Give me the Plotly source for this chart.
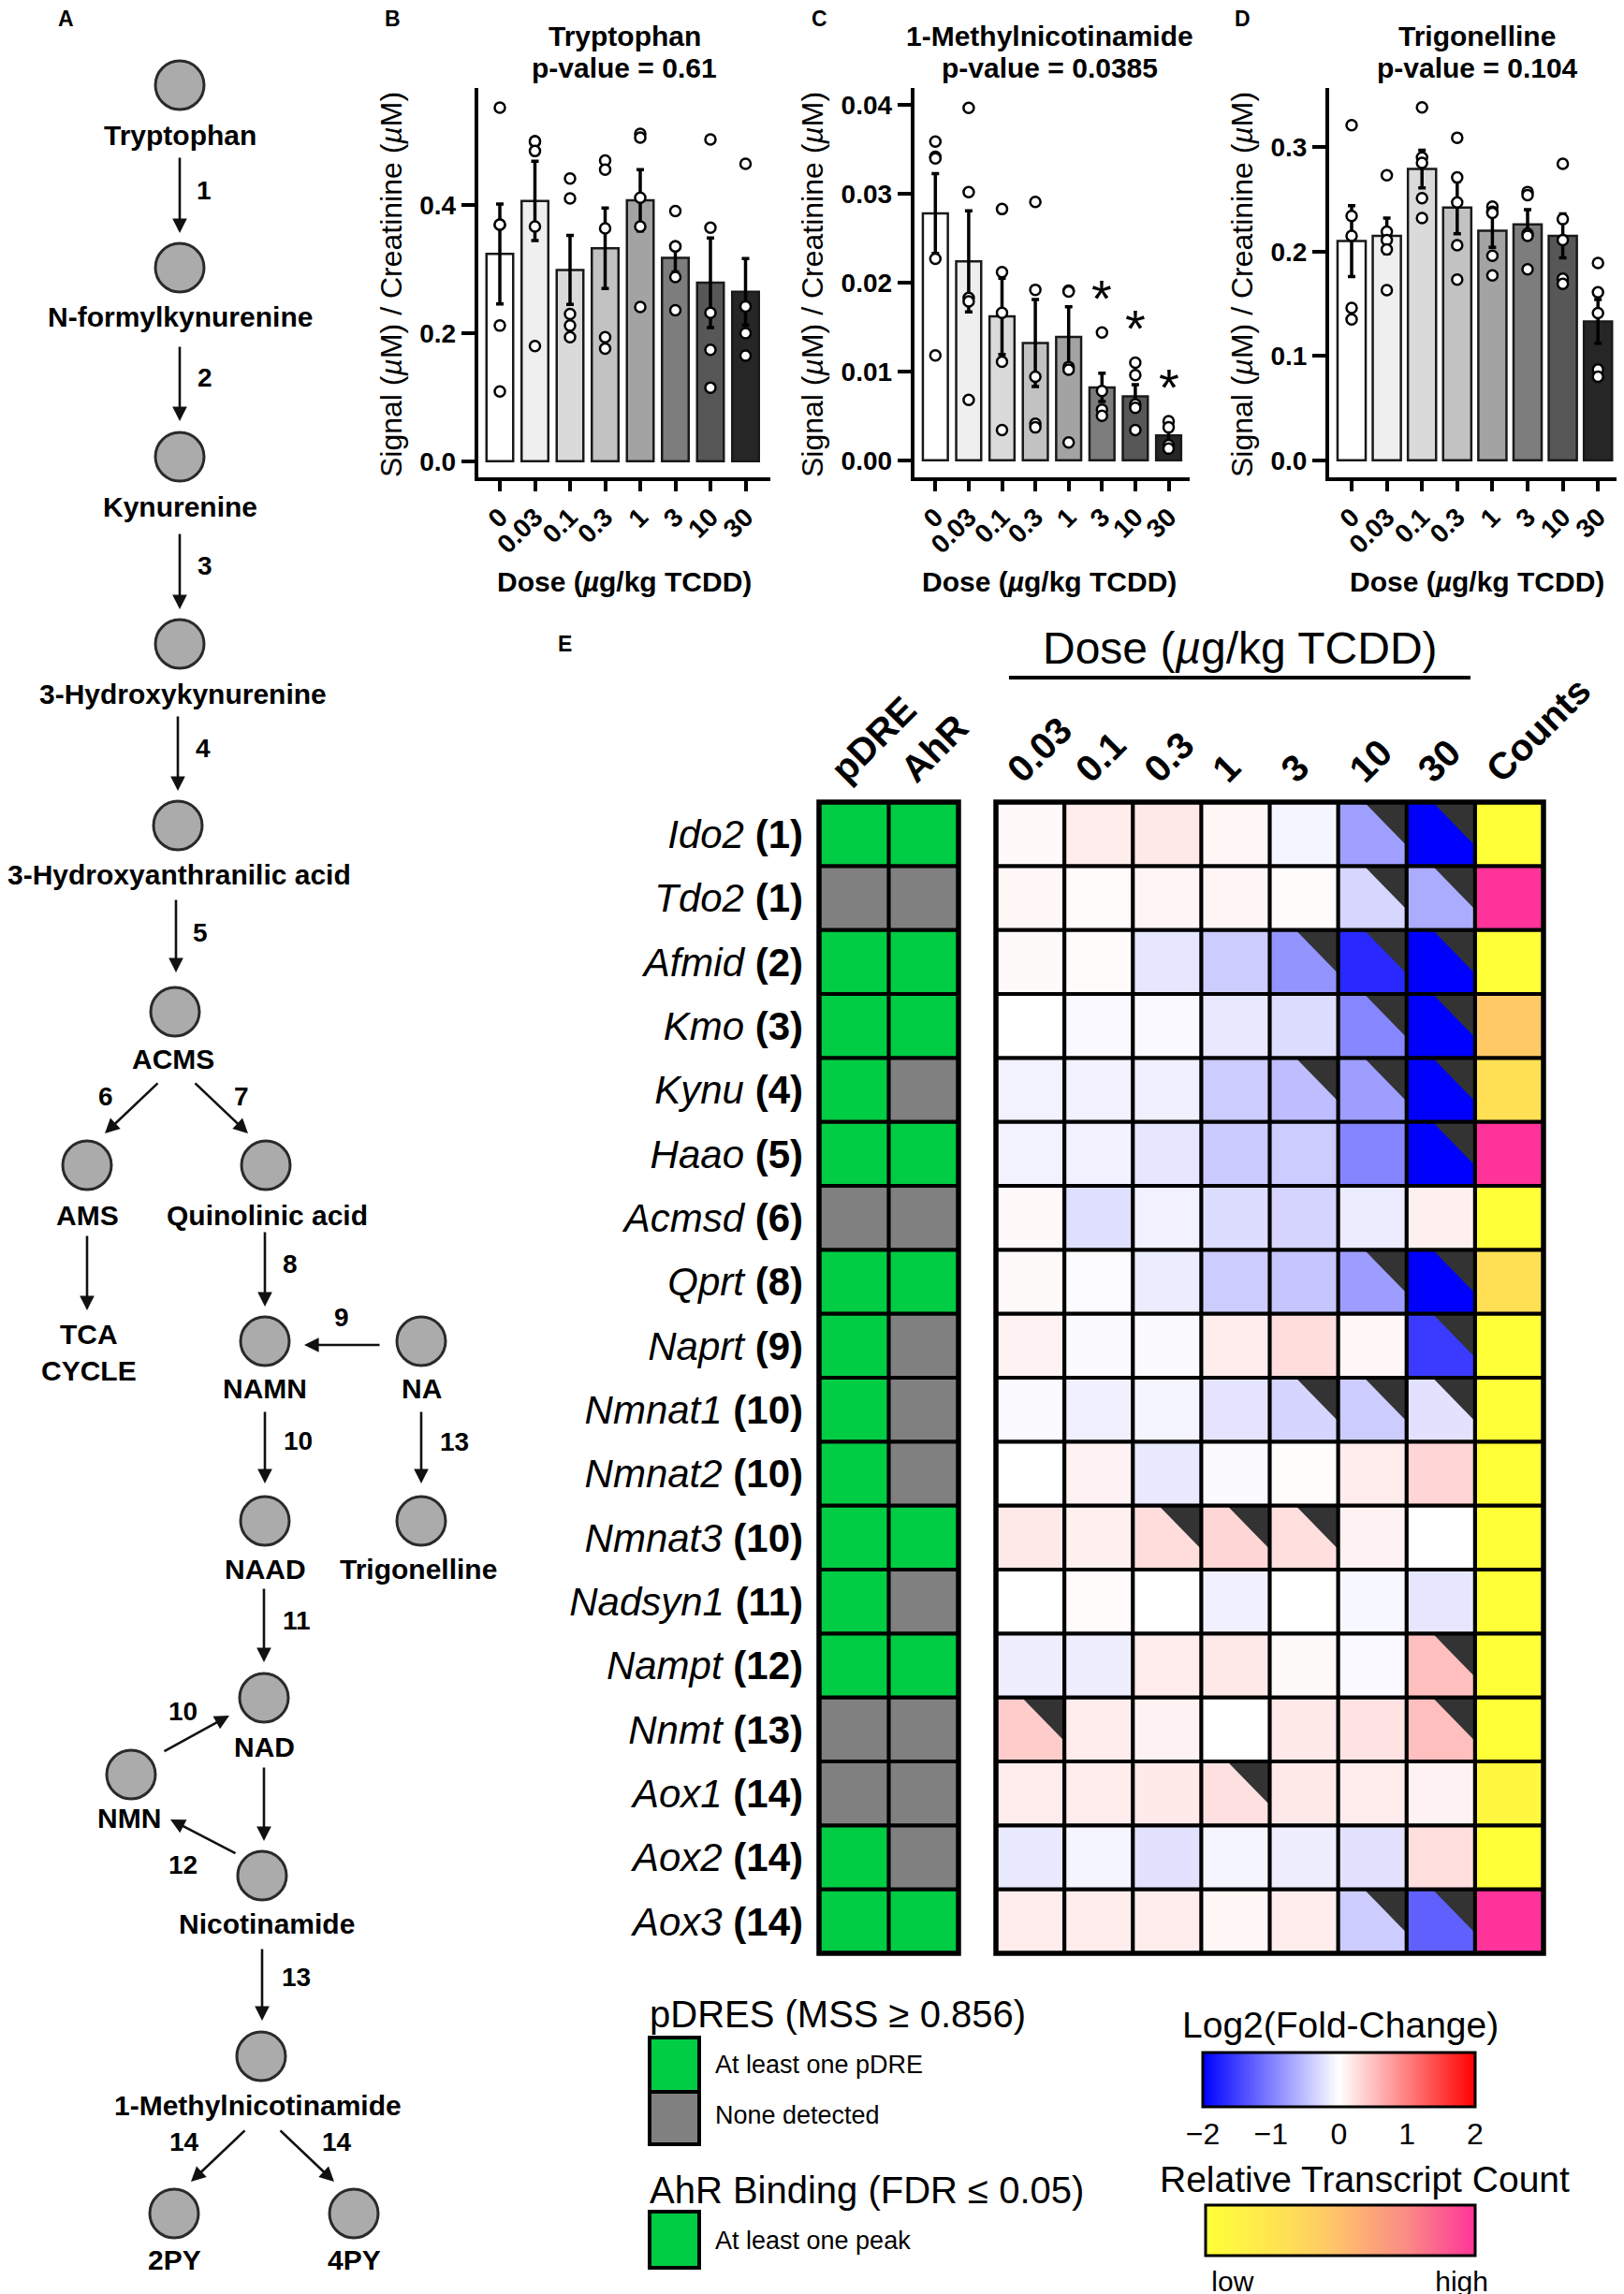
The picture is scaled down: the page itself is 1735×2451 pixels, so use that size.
import plotly.graph_objects as go

# ============================ DATA ============================
doses = ["0", "0.03", "0.1", "0.3", "1", "3", "10", "30"]

panel_titles = ["Tryptophan", "1-Methylnicotinamide", "Trigonelline"]
panel_pvalues = ["p-value = 0.61", "p-value = 0.0385", "p-value = 0.104"]

trp_mean = [0.324, 0.407, 0.299, 0.333, 0.408, 0.318, 0.279, 0.265]
trp_sem = [0.078, 0.062, 0.054, 0.063, 0.048, 0.022, 0.070, 0.052]
trp_points = [
    [0.553, 0.370, 0.370, 0.212, 0.109],
    [0.500, 0.500, 0.485, 0.367, 0.180],
    [0.442, 0.411, 0.230, 0.212, 0.194],
    [0.470, 0.456, 0.364, 0.194, 0.176],
    [0.512, 0.506, 0.412, 0.367, 0.241],
    [0.391, 0.336, 0.336, 0.288, 0.236],
    [0.503, 0.365, 0.232, 0.174, 0.115],
    [0.465, 0.242, 0.200, 0.165],
]

mna_mean = [0.0278, 0.0224, 0.0162, 0.0132, 0.0139, 0.0082, 0.0072, 0.0028]
mna_sem = [0.0045, 0.0057, 0.0043, 0.0049, 0.0034, 0.0016, 0.0013, 0.0009]
mna_points = [
    [0.0359, 0.0342, 0.0340, 0.0227, 0.0118],
    [0.0397, 0.0302, 0.0183, 0.0179, 0.0068],
    [0.0283, 0.0212, 0.0166, 0.0111, 0.0034],
    [0.0291, 0.0192, 0.0094, 0.0041, 0.0037],
    [0.0191, 0.0190, 0.0105, 0.0102, 0.0020],
    [0.0144, 0.0078, 0.0057, 0.0050],
    [0.0110, 0.0096, 0.0063, 0.0059, 0.0034],
    [0.0044, 0.0037, 0.0017, 0.0013],
]
mna_significant = [False, False, False, False, False, True, True, True]

trig_mean = [0.210, 0.215, 0.279, 0.242, 0.220, 0.226, 0.215, 0.133]
trig_sem = [0.034, 0.017, 0.018, 0.025, 0.016, 0.014, 0.021, 0.021]
trig_points = [
    [0.321, 0.234, 0.215, 0.146, 0.135],
    [0.273, 0.219, 0.211, 0.202, 0.163],
    [0.338, 0.290, 0.285, 0.251, 0.232],
    [0.309, 0.271, 0.247, 0.206, 0.173],
    [0.243, 0.238, 0.237, 0.196, 0.177],
    [0.257, 0.254, 0.217, 0.215, 0.183],
    [0.284, 0.231, 0.211, 0.174, 0.169],
    [0.189, 0.161, 0.141, 0.087, 0.080],
]

genes = ["Ido2", "Tdo2", "Afmid", "Kmo", "Kynu", "Haao", "Acmsd", "Qprt", "Naprt",
         "Nmnat1", "Nmnat2", "Nmnat3", "Nadsyn1", "Nampt", "Nnmt", "Aox1", "Aox2", "Aox3"]
gene_steps = [1, 1, 2, 3, 4, 5, 6, 8, 9, 10, 10, 10, 11, 12, 13, 14, 14, 14]
hm_doses = ["0.03", "0.1", "0.3", "1", "3", "10", "30"]
annot_cols = ["pDRE", "AhR"]
count_col = "Counts"

log2fc = [
    [0.05, 0.15, 0.18, 0.07, -0.08, -0.75, -2.0],
    [0.07, 0.03, 0.08, 0.08, 0.03, -0.32, -0.65],
    [0.04, 0.03, -0.20, -0.40, -0.84, -1.68, -2.0],
    [0.00, -0.05, -0.05, -0.18, -0.27, -0.95, -2.0],
    [-0.10, -0.11, -0.12, -0.40, -0.52, -0.76, -2.0],
    [-0.10, -0.11, -0.20, -0.41, -0.40, -0.96, -2.0],
    [0.05, -0.25, -0.11, -0.27, -0.33, -0.15, 0.12],
    [0.04, -0.02, -0.15, -0.40, -0.45, -0.77, -2.0],
    [0.10, -0.03, -0.03, 0.14, 0.27, 0.07, -1.54],
    [-0.03, -0.12, -0.08, -0.21, -0.33, -0.40, -0.23],
    [0.00, 0.10, -0.17, -0.03, 0.02, 0.15, 0.33],
    [0.18, 0.12, 0.27, 0.32, 0.26, 0.10, 0.00],
    [0.00, 0.03, 0.00, -0.12, 0.00, -0.06, -0.20],
    [-0.13, -0.13, 0.15, 0.18, 0.04, -0.05, 0.50],
    [0.40, 0.14, 0.10, 0.00, 0.17, 0.22, 0.50],
    [0.14, 0.15, 0.17, 0.24, 0.18, 0.14, 0.10],
    [-0.17, -0.08, -0.23, -0.08, -0.13, -0.23, 0.26],
    [0.15, 0.15, 0.14, 0.07, 0.14, -0.40, -1.25],
]
significant = [
    [0, 0, 0, 0, 0, 1, 1],
    [0, 0, 0, 0, 0, 1, 1],
    [0, 0, 0, 0, 1, 1, 1],
    [0, 0, 0, 0, 0, 1, 1],
    [0, 0, 0, 0, 1, 1, 1],
    [0, 0, 0, 0, 0, 0, 1],
    [0, 0, 0, 0, 0, 0, 0],
    [0, 0, 0, 0, 0, 1, 1],
    [0, 0, 0, 0, 0, 0, 1],
    [0, 0, 0, 0, 1, 1, 1],
    [0, 0, 0, 0, 0, 0, 0],
    [0, 0, 1, 1, 1, 0, 0],
    [0, 0, 0, 0, 0, 0, 0],
    [0, 0, 0, 0, 0, 0, 1],
    [1, 0, 0, 0, 0, 0, 1],
    [0, 0, 0, 1, 0, 0, 0],
    [0, 0, 0, 0, 0, 0, 0],
    [0, 0, 0, 0, 0, 1, 1],
]
rel_counts = [0.0, 1.0, 0.0, 0.45, 0.3, 1.0, 0.0, 0.3, 0.0, 0.0, 0.0, 0.0, 0.0, 0.0, 0.0, 0.08, 0.0, 1.0]
pdre = [1, 0, 1, 1, 1, 1, 0, 1, 1, 1, 1, 1, 1, 1, 0, 0, 1, 1]
ahr = [1, 0, 1, 1, 0, 1, 0, 1, 0, 0, 0, 1, 0, 1, 0, 0, 0, 1]

pathway_nodes = ["Tryptophan", "N-formylkynurenine", "Kynurenine", "3-Hydroxykynurenine",
                 "3-Hydroxyanthranilic acid", "ACMS", "AMS", "Quinolinic acid", "NAMN", "NA",
                 "NAAD", "Trigonelline", "NAD", "NMN", "Nicotinamide", "1-Methylnicotinamide",
                 "2PY", "4PY"]
pathway_edges = [
    ("Tryptophan", "N-formylkynurenine", "1"),
    ("N-formylkynurenine", "Kynurenine", "2"),
    ("Kynurenine", "3-Hydroxykynurenine", "3"),
    ("3-Hydroxykynurenine", "3-Hydroxyanthranilic acid", "4"),
    ("3-Hydroxyanthranilic acid", "ACMS", "5"),
    ("ACMS", "AMS", "6"),
    ("ACMS", "Quinolinic acid", "7"),
    ("AMS", "TCA CYCLE", ""),
    ("Quinolinic acid", "NAMN", "8"),
    ("NA", "NAMN", "9"),
    ("NAMN", "NAAD", "10"),
    ("NA", "Trigonelline", "13"),
    ("NAAD", "NAD", "11"),
    ("NMN", "NAD", "10"),
    ("NAD", "Nicotinamide", ""),
    ("Nicotinamide", "NMN", "12"),
    ("Nicotinamide", "1-Methylnicotinamide", "13"),
    ("1-Methylnicotinamide", "2PY", "14"),
    ("1-Methylnicotinamide", "4PY", "14"),
]

# ============================ LAYOUT / STYLE ============================
W, H = 1735, 2451
OFF = 8  # the page body margin shifts the figure by this many pixels
FONT = "Liberation Sans, Arial, Helvetica, sans-serif"


def fx(x):
    return (x - OFF) / W


def fy(y):
    return 1 - (y - OFF) / H


def note(x, y, text, size, bold=False, xanchor="center", **kw):
    f = dict(size=size, family=FONT, color="black")
    if bold:
        f["weight"] = "bold"
    d = dict(x=x, y=y, text=text, showarrow=False, font=f, xanchor=xanchor, yanchor="middle")
    d.setdefault("xref", "paper")
    d.setdefault("yref", "paper")
    d.update(kw)
    return d


fig = go.Figure()
annotations = []
shapes = []
axes = {}

# ---------------- panels B, C, D ----------------
bar_fills = ["#ffffff", "#efefef", "#dadada", "#c2c2c2", "#a3a3a3", "#7d7d7d", "#575757", "#262626"]
Y_TOP, Y_BOT = 94.4, 510
bar_panels = [
    dict(n=1, mean=trp_mean, sem=trp_sem, pts=trp_points, sig=None,
         xl=510.7, xr=823, x0=534, step=37.5, bw=0.76, yr=(-0.0253, 0.583),
         tickvals=[0, 0.2, 0.4], fmt="{:.1f}", cx=667, ytx=418, letter="B", lx=419),
    dict(n=2, mean=mna_mean, sem=mna_sem, pts=mna_points, sig=mna_significant,
         xl=976.7, xr=1271, x0=999.3, step=35.6, bw=0.75, yr=(-0.00193, 0.0419),
         tickvals=[0, 0.01, 0.02, 0.03, 0.04], fmt="{:.2f}", cx=1121, ytx=868, letter="C", lx=875),
    dict(n=3, mean=trig_mean, sem=trig_sem, pts=trig_points, sig=None,
         xl=1420, xr=1730, x0=1444, step=37.6, bw=0.8, yr=(-0.0164, 0.3563),
         tickvals=[0, 0.1, 0.2, 0.3], fmt="{:.1f}", cx=1578, ytx=1327, letter="D", lx=1327),
]

for k, p in enumerate(bar_panels):
    n = p["n"]
    xa = "x" if n == 1 else f"x{n}"
    ya = "y" if n == 1 else f"y{n}"
    xs = list(range(len(doses)))
    fig.add_trace(go.Bar(
        x=xs, y=p["mean"], width=p["bw"],
        marker=dict(color=bar_fills, line=dict(color="#1a1a1a", width=2.5)),
        error_y=dict(type="data", array=p["sem"], visible=True, color="black", thickness=3.5, width=4),
        xaxis=xa, yaxis=ya, hoverinfo="skip"))
    px_, py_ = [], []
    for i, grp in enumerate(p["pts"]):
        for v in grp:
            px_.append(i)
            py_.append(v)
    fig.add_trace(go.Scatter(
        x=px_, y=py_, mode="markers", cliponaxis=False,
        marker=dict(symbol="circle", size=11, color="white", line=dict(color="black", width=2.5)),
        xaxis=xa, yaxis=ya, hoverinfo="skip"))
    if p["sig"]:
        for i, s in enumerate(p["sig"]):
            if s:
                annotations.append(note(i, max(p["pts"][i]) + 0.005, "*", 56, xref=xa, yref=ya, yshift=-11))
    xr0 = (p["xl"] - p["x0"]) / p["step"]
    xr1 = (p["xr"] - p["x0"]) / p["step"]
    axes["xaxis" if n == 1 else f"xaxis{n}"] = dict(
        domain=[fx(p["xl"]), min(1, fx(p["xr"]))], range=[xr0, xr1], anchor=ya, automargin=False,
        tickvals=xs, ticktext=doses, tickangle=-45, ticks="outside", ticklen=11, tickwidth=4,
        tickcolor="black", showline=True, linewidth=4, linecolor="black",
        showgrid=False, zeroline=False,
        tickfont=dict(size=28, family=FONT, color="black", weight="bold"))
    axes["yaxis" if n == 1 else f"yaxis{n}"] = dict(
        domain=[fy(Y_BOT), fy(Y_TOP)], range=list(p["yr"]), anchor=xa, automargin=False,
        tickvals=p["tickvals"], ticktext=[p["fmt"].format(v) for v in p["tickvals"]],
        ticks="outside", ticklen=14, tickwidth=4, tickcolor="black",
        showline=True, linewidth=4, linecolor="black", showgrid=False, zeroline=False,
        tickfont=dict(size=28, family=FONT, color="black", weight="bold"))
    annotations.append(note(fx(p["cx"]), fy(38), panel_titles[k], 30, bold=True))
    annotations.append(note(fx(p["cx"]), fy(72), panel_pvalues[k], 30, bold=True))
    annotations.append(note(fx(p["ytx"]), fy(304), "Signal (<i>µ</i>M) / Creatinine (<i>µ</i>M)", 32,
                            textangle=-90))
    annotations.append(note(fx(p["cx"]), fy(621), "Dose (<i>µ</i>g/kg TCDD)", 30, bold=True))
    annotations.append(note(fx(p["lx"]), fy(20), p["letter"], 23, bold=True))

# ---------------- panel E heatmaps ----------------
HM_T, HM_B = 857, 2087
A_L, A_R = 875, 1024
F_L, F_R = 1064, 1649
nrows = len(genes)
rows = list(range(nrows))

fig.add_trace(go.Heatmap(
    z=[[p_, a_] for p_, a_ in zip(pdre, ahr)], x=[0, 1], y=rows,
    colorscale=[[0, "#808080"], [0.5, "#808080"], [0.5, "#00cc44"], [1, "#00cc44"]],
    zmin=0, zmax=1, showscale=False, xaxis="x4", yaxis="y4", hoverinfo="skip"))

fig.add_trace(go.Heatmap(
    z=log2fc, x=list(range(len(hm_doses))), y=rows,
    colorscale=[[0, "#0000ff"], [0.5, "#ffffff"], [1, "#ff0000"]], zmin=-2, zmax=2,
    xaxis="x5", yaxis="y5", hoverinfo="skip",
    colorbar=dict(orientation="h", x=fx(1285), xanchor="left", y=fy(2193), yanchor="top",
                  len=291, lenmode="pixels", thickness=58, thicknessmode="pixels",
                  outlinewidth=3, outlinecolor="black", xpad=0, ypad=0,
                  tickvals=[-2, -1, 0, 1, 2], ticktext=["\u22122", "\u22121", "0", "1", "2"],
                  ticks="", tickfont=dict(size=32, family=FONT, color="black"))))

fig.add_trace(go.Heatmap(
    z=[[c] for c in rel_counts], x=[len(hm_doses)], y=rows,
    colorscale=[[0, "#ffff38"], [0.3, "#ffe055"], [0.45, "#ffc966"], [0.75, "#fa8a86"], [1, "#ff3399"]],
    zmin=0, zmax=1, xaxis="x5", yaxis="y5", hoverinfo="skip",
    colorbar=dict(orientation="h", x=fx(1288), xanchor="left", y=fy(2356), yanchor="top",
                  len=288, lenmode="pixels", thickness=54, thicknessmode="pixels",
                  outlinewidth=3, outlinecolor="black", xpad=0, ypad=0,
                  tickvals=[0.1, 0.95], ticktext=["low", "high"], ticks="",
                  tickfont=dict(size=30, family=FONT, color="black"))))

# significance corner triangles
tx, ty = [], []
for i in rows:
    for j in range(len(hm_doses)):
        if significant[i][j]:
            tx += [j + 0.5 - 0.62, j + 0.5, j + 0.5, j + 0.5 - 0.62, None]
            ty += [i - 0.5, i - 0.5, i - 0.5 + 0.68, i - 0.5, None]
fig.add_trace(go.Scatter(x=tx, y=ty, mode="lines", fill="toself", fillcolor="#333333",
                         line=dict(width=0, color="rgba(0,0,0,0)"), xaxis="x5", yaxis="y5",
                         hoverinfo="skip"))

gene_labels = [f"<i>{g}</i> <b>({s})</b>" for g, s in zip(genes, gene_steps)]
axes["xaxis4"] = dict(domain=[fx(A_L), fx(A_R)], range=[-0.5, 1.5], anchor="y4", side="top",
                      tickvals=[0, 1], ticktext=annot_cols, tickangle=-45, ticks="", automargin=False,
                      showgrid=False, zeroline=False, showline=False, ticklabelstandoff=4,
                      ticklabelshift=-22,
                      tickfont=dict(size=40, family=FONT, color="black", weight="bold"))
axes["yaxis4"] = dict(domain=[fy(HM_B), fy(HM_T)], range=[nrows - 0.5, -0.5], anchor="x4",
                      tickvals=rows, ticktext=gene_labels, ticks="", ticklabelstandoff=16,
                      showgrid=False, zeroline=False, showline=False, automargin=False,
                      tickfont=dict(size=42, family=FONT, color="black"))
axes["xaxis5"] = dict(domain=[fx(F_L), fx(F_R)], range=[-0.5, len(hm_doses) + 0.5], anchor="y5",
                      side="top", tickvals=list(range(len(hm_doses) + 1)), automargin=False,
                      ticktext=hm_doses + [count_col], tickangle=-45, ticks="",
                      showgrid=False, zeroline=False, showline=False, ticklabelstandoff=4,
                      ticklabelshift=-22,
                      tickfont=dict(size=40, family=FONT, color="black", weight="bold"))
axes["yaxis5"] = dict(domain=[fy(HM_B), fy(HM_T)], range=[nrows - 0.5, -0.5], anchor="x5",
                      showticklabels=False, ticks="", showgrid=False, zeroline=False,
                      showline=False, automargin=False)

# grid lines over the heatmaps
for ax_id, ncol in (("4", 2), ("5", len(hm_doses) + 1)):
    for c in range(1, ncol):
        shapes.append(dict(type="line", xref=f"x{ax_id} domain", yref=f"y{ax_id} domain",
                           x0=c / ncol, x1=c / ncol, y0=0, y1=1, layer="above",
                           line=dict(color="black", width=4.2)))
    for r in range(1, nrows):
        shapes.append(dict(type="line", xref=f"x{ax_id} domain", yref=f"y{ax_id} domain",
                           x0=0, x1=1, y0=r / nrows, y1=r / nrows, layer="above",
                           line=dict(color="black", width=4.2)))
    shapes.append(dict(type="rect", xref=f"x{ax_id} domain", yref=f"y{ax_id} domain",
                       x0=0, x1=1, y0=0, y1=1, layer="above", line=dict(color="black", width=5.5)))

# heatmap header
annotations.append(note(fx(1325), fy(693), "Dose (<i>µ</i>g/kg TCDD)", 48))
shapes.append(dict(type="line", xref="paper", yref="paper", x0=fx(1078), x1=fx(1571),
                   y0=fy(724), y1=fy(724), line=dict(color="black", width=4)))
annotations.append(note(fx(603), fy(688), "E", 23, bold=True))


# legends for E
def legend_box(x0, y0, x1, y1, color):
    shapes.append(dict(type="rect", xref="paper", yref="paper", x0=fx(x0), x1=fx(x1),
                       y0=fy(y1), y1=fy(y0), fillcolor=color, line=dict(color="black", width=4)))


legend_box(694, 2177, 747, 2235, "#00cc44")
legend_box(694, 2235, 747, 2291, "#808080")
legend_box(694, 2363, 747, 2423, "#00cc44")
for txt, x, y, size in [("pDRES (MSS ≥ 0.856)", 692, 2152, 40),
                        ("At least one pDRE", 762, 2206, 27),
                        ("None detected", 762, 2260, 27),
                        ("AhR Binding (FDR ≤ 0.05)", 692, 2340, 40),
                        ("At least one peak", 762, 2394, 27)]:
    annotations.append(note(fx(x), fy(y), txt, size, xanchor="left"))
annotations.append(note(fx(1432), fy(2163), "Log2(Fold-Change)", 39))
annotations.append(note(fx(1458), fy(2328), "Relative Transcript Count", 39))

# ---------------- panel A pathway ----------------
node_xy = {
    "Tryptophan": (192, 91), "N-formylkynurenine": (192, 286), "Kynurenine": (192, 488),
    "3-Hydroxykynurenine": (192, 688), "3-Hydroxyanthranilic acid": (190, 882),
    "ACMS": (187, 1081), "AMS": (93, 1245), "Quinolinic acid": (284, 1245),
    "NAMN": (283, 1433), "NA": (450, 1433), "NAAD": (283, 1625), "Trigonelline": (450, 1625),
    "NAD": (282, 1814), "NMN": (140, 1896), "Nicotinamide": (280, 2004),
    "1-Methylnicotinamide": (279, 2197), "2PY": (186, 2365), "4PY": (378, 2365),
}
label_xy = {
    "Tryptophan": (192, 144), "N-formylkynurenine": (192, 338), "Kynurenine": (192, 541),
    "3-Hydroxykynurenine": (195, 741), "3-Hydroxyanthranilic acid": (191, 934),
    "ACMS": (185, 1131), "AMS": (93, 1298), "Quinolinic acid": (285, 1298),
    "NAMN": (283, 1483), "NA": (450, 1483), "NAAD": (283, 1676), "Trigonelline": (447, 1676),
    "NAD": (282, 1866), "NMN": (138, 1942), "Nicotinamide": (285, 2055),
    "1-Methylnicotinamide": (275, 2249), "2PY": (186, 2414), "4PY": (378, 2414),
    "TCA CYCLE": (95, 1445),
}
edge_geom = [
    ((192, 167), (192, 249), (218, 203)),
    ((192, 369), (192, 450), (219, 403)),
    ((192, 569), (192, 651), (219, 604)),
    ((190, 764), (190, 845), (217, 799)),
    ((188, 960), (188, 1039), (214, 996)),
    ((170, 1156), (112, 1211), (113, 1171)),
    ((207, 1156), (265, 1211), (258, 1171)),
    ((93, 1319), (93, 1400), None),
    ((283, 1315), (283, 1396), (310, 1350)),
    ((407, 1437), (325, 1437), (365, 1407)),
    ((283, 1507), (283, 1585), (318, 1539)),
    ((450, 1507), (450, 1585), (485, 1540)),
    ((282, 1696), (282, 1776), (317, 1731)),
    ((174, 1872), (245, 1833), (195, 1828)),
    ((282, 1887), (282, 1967), None),
    ((253, 1981), (182, 1944), (195, 1992)),
    ((280, 2081), (280, 2159), (316, 2112)),
    ((263, 2275), (204, 2331), (197, 2288)),
    ((298, 2275), (357, 2331), (360, 2288)),
]
A_W = 0.3 * W
axes["xaxis6"] = dict(domain=[0, 0.3], range=[OFF, A_W + OFF], visible=False, anchor="y6",
                      automargin=False)
axes["yaxis6"] = dict(domain=[0, 1], range=[H + OFF, OFF], visible=False, anchor="x6",
                      automargin=False)

fig.add_trace(go.Scatter(
    x=[node_xy[nm][0] for nm in pathway_nodes], y=[node_xy[nm][1] for nm in pathway_nodes],
    mode="markers", cliponaxis=False, xaxis="x6", yaxis="y6", hoverinfo="skip",
    marker=dict(symbol="circle", size=52, color="#ababab", line=dict(color="#2a2a2a", width=3))))

for nm, (lx, ly) in label_xy.items():
    txt = "TCA<br>CYCLE" if nm == "TCA CYCLE" else nm
    annotations.append(note(lx, ly, txt, 30, bold=True, xref="x6", yref="y6"))

for (src, dst, lab), (tail, head, lpos) in zip(pathway_edges, edge_geom):
    annotations.append(dict(x=head[0], y=head[1], ax=tail[0], ay=tail[1], xref="x6", yref="y6",
                            axref="x6", ayref="y6", text="", showarrow=True, arrowhead=2,
                            arrowsize=1.2, arrowwidth=2.6, arrowcolor="#111111", standoff=0))
    if lab and lpos:
        annotations.append(note(lpos[0], lpos[1], lab, 28, bold=True, xref="x6", yref="y6"))

annotations.append(note(fx(70), fy(20), "A", 23, bold=True))

fig.update_layout(
    template="none",
    width=W, height=H, margin=dict(l=0, r=0, t=0, b=0, autoexpand=False),
    paper_bgcolor="white", plot_bgcolor="rgba(0,0,0,0)", showlegend=False,
    font=dict(family=FONT, color="black"),
    annotations=annotations, shapes=shapes, **axes)

fig.write_html("out.html")
